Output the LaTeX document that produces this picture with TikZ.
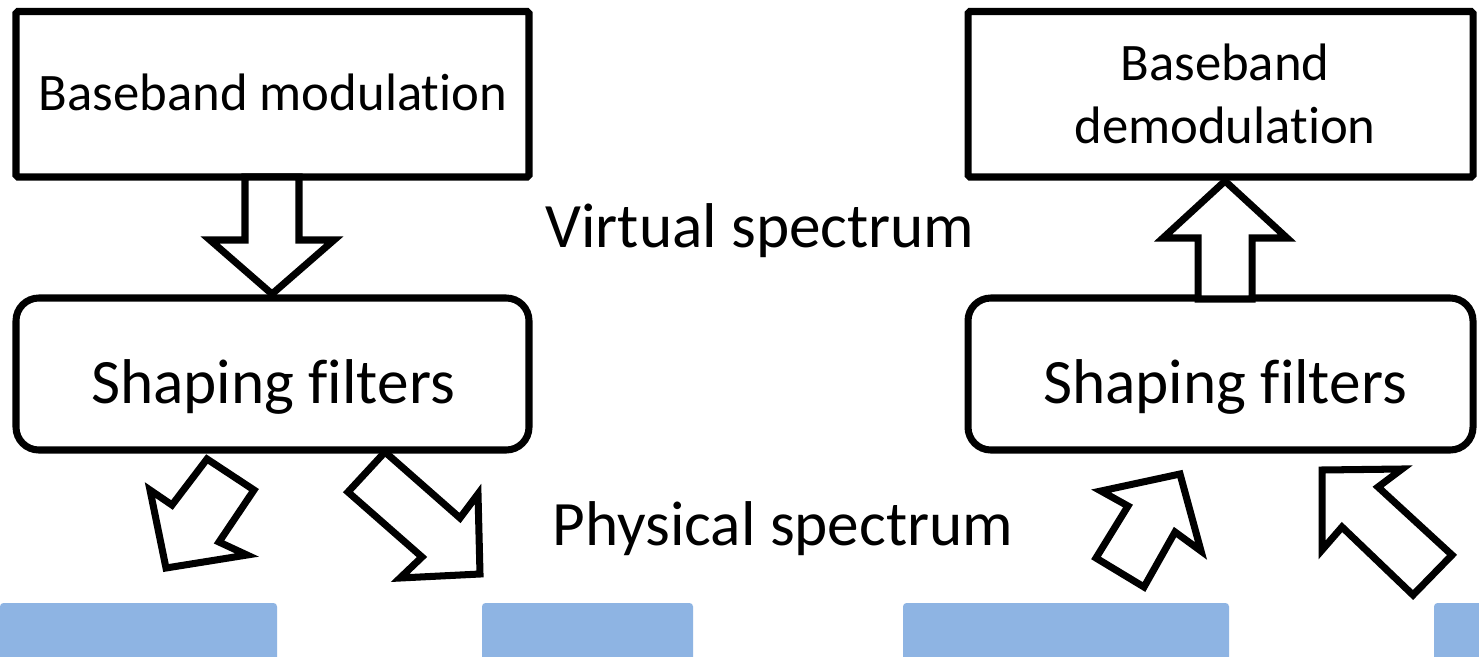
\documentclass[tikz,border=0pt]{standalone}
\usepackage{fontspec}
\setmainfont{Carlito}[RawFeature={-liga;-calt;-dlig;-clig}]
\begin{document}
\begin{tikzpicture}[x=0.02cm,y=-0.02cm,
  line join=miter,
  blockbox/.style={draw,line width=4pt,inner sep=0pt,outer sep=0pt,anchor=north west,rounded corners=1pt},
  roundbox/.style={blockbox,rounded corners=13pt},
  bigtext/.style={font=\fontsize{36}{40}\selectfont,anchor=base,inner sep=0pt},
  smalltext/.style={font=\fontsize{30}{36}\selectfont,anchor=base,inner sep=0pt},
  hollowarrow/.style={draw,line width=4pt,fill=white},
  band/.style={fill=bandblue,rounded corners=2pt}
]
\definecolor{bandblue}{HTML}{8EB4E3}
\clip (0,0) rectangle (1479,656);
\fill[white] (0,0) rectangle (1479,656);

% processing blocks
\node[blockbox,minimum width=513*0.02cm,minimum height=165.5*0.02cm] (mod) at (16,11.5) {};
\node[blockbox,minimum width=505*0.02cm,minimum height=165.5*0.02cm] (demod) at (968,11.5) {};
\node[roundbox,minimum width=513*0.02cm,minimum height=152*0.02cm] (shapeL) at (16,298) {};
\node[roundbox,minimum width=505*0.02cm,minimum height=152*0.02cm] (shapeR) at (968,298) {};

% block labels
\node[smalltext] (modtxt) at (273,110) {Baseband modulation};
\node[smalltext] (demodtxt1) at (1225,80) {Baseband};
\node[smalltext] (demodtxt2) at (1225,143) {demodulation};
\node[bigtext] (shapeLtxt) at (273,403) {Shaping filters};
\node[bigtext] (shapeRtxt) at (1225,403) {Shaping filters};

% domain labels
\node[bigtext] (virt) at (760,247) {Virtual spectrum};
\node[bigtext] (phys) at (783,545) {Physical spectrum};

% vertical block arrows between the blocks
\draw[hollowarrow] (245,177) -- (299,177) -- (299,240) -- (334,240) -- (272,294)
  -- (210,240) -- (245,240) -- cycle;
\draw[hollowarrow] (1198,299) -- (1252,299) -- (1252,238) -- (1287,238) -- (1225,181)
  -- (1163,238) -- (1198,238) -- cycle;

% tilted block arrows to and from the spectrum bands
\draw[hollowarrow] (207,459) -- (254,490) -- (219,542) -- (247,555) -- (166,568)
  -- (150,490) -- (172,505) -- cycle;
\draw[hollowarrow] (385,452) -- (460,518) -- (478,494) -- (480,574) -- (400,578)
  -- (422,557) -- (348,492) -- cycle;
\draw[hollowarrow] (1096,558) -- (1144,587) -- (1175,532) -- (1201,551) -- (1180,474)
  -- (1101,491) -- (1128,506) -- cycle;
\draw[hollowarrow] (1322,470) -- (1402,469) -- (1378,487) -- (1452,555) -- (1413,595)
  -- (1342,527) -- (1322,550) -- cycle;

% spectrum bands
\fill[band] (0,603) rectangle (277,670);
\fill[band] (482,603) rectangle (693,670);
\fill[band] (903,603) rectangle (1229,670);
\fill[band] (1434,603) rectangle (1500,670);
\end{tikzpicture}
\end{document}
